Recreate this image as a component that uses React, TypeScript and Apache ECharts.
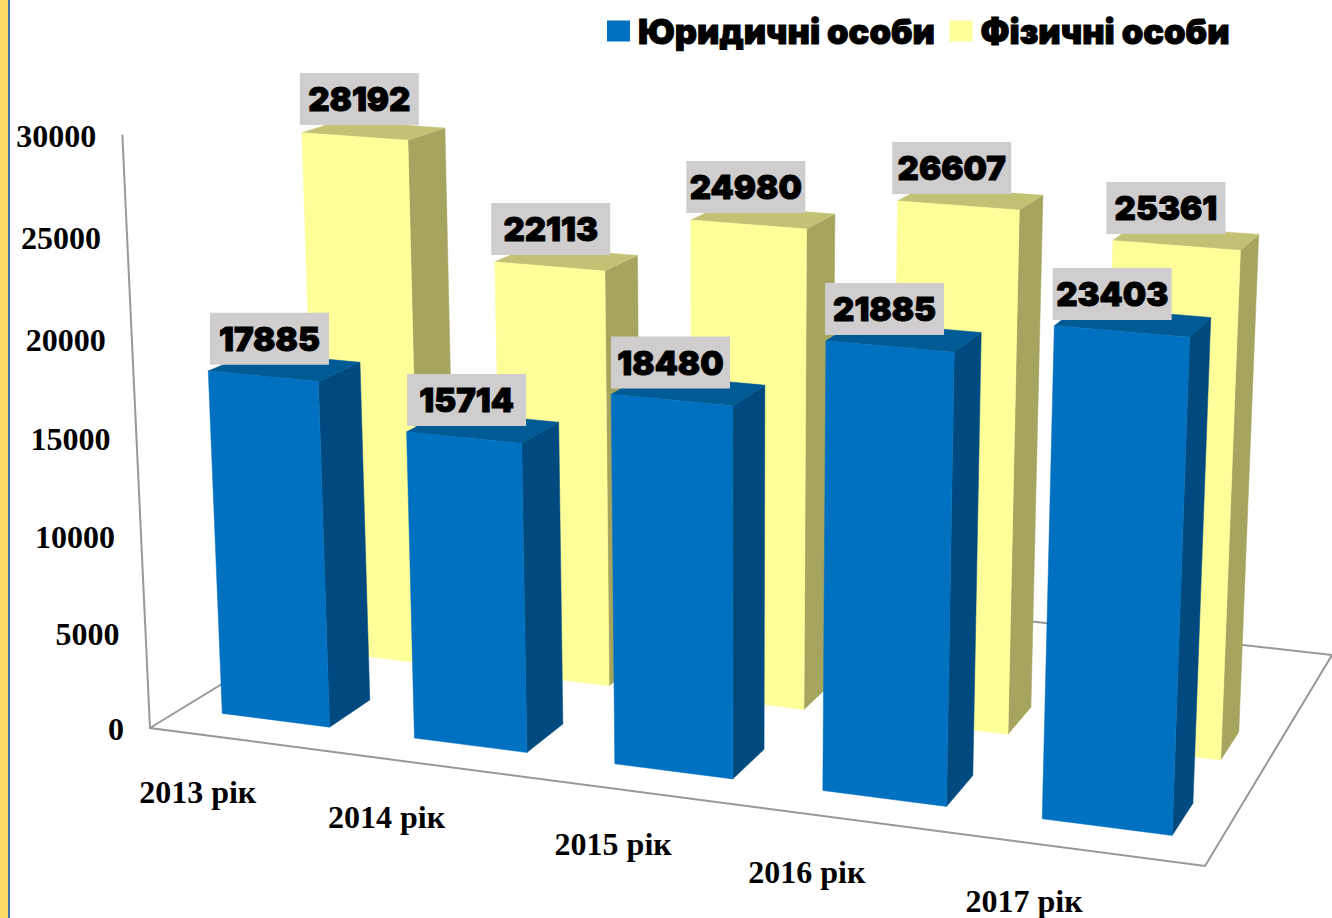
import React, { useEffect, useRef } from "react";
import * as echarts from "echarts";

const categories = ["2013 рік", "2014 рік", "2015 рік", "2016 рік", "2017 рік"];
const legalEntities = [17885, 15714, 18480, 21885, 23403];
const individuals = [28192, 22113, 24980, 26607, 25361];
const yTicks = [0, 5000, 10000, 15000, 20000, 25000, 30000];
const yMax = 30000;

// Perspective of the picture: floor quad, vertical vanishing point and height factor
const floorA = [150, 728];
const floorB = [1205, 866];
const floorC = [1332, 655];
const floorD = [433, 555];
const vanish = [736, 13291];
const heightK = -0.0451;
const barWidth = 0.114;
const blueShifts = [-0.002, -0.003, -0.003, -0.003, 0];
const yellowShifts = [-0.005, -0.005, -0.005, -0.003, 0];
const blueDepth = [0.098, 0.235];
const yellowDepth = [0.43, 0.565];
const catNudges = [[-49, 51], [-59, 50], [-39, 50], [-60, 50], [-66, 50]];

const blueColors = { front: "#0070C0", side: "#004A80", top: "#005A96" };
const yellowColors = { front: "#FFFF99", side: "#A5A560", top: "#C2C275" };

const dx1 = floorB[0] - floorC[0], dx2 = floorD[0] - floorC[0];
const sx = floorA[0] - floorB[0] + floorC[0] - floorD[0];
const dy1 = floorB[1] - floorC[1], dy2 = floorD[1] - floorC[1];
const sy = floorA[1] - floorB[1] + floorC[1] - floorD[1];
const den = dx1 * dy2 - dx2 * dy1;
const g = (sx * dy2 - dx2 * sy) / den;
const h = (dx1 * sy - sx * dy1) / den;
const a = floorB[0] - floorA[0] + g * floorB[0];
const b = floorD[0] - floorA[0] + h * floorD[0];
const d = floorB[1] - floorA[1] + g * floorB[1];
const e = floorD[1] - floorA[1] + h * floorD[1];

function project(u: number, v: number, z: number) {
  const w = g * u + h * v + 1 + heightK * z;
  return [
    (a * u + b * v + floorA[0] + heightK * z * vanish[0]) / w,
    (d * u + e * v + floorA[1] + heightK * z * vanish[1]) / w,
  ];
}

// share of the value axis, read from the (hidden) cartesian axis
function share(api: any, value: number) {
  const y0 = api.coord([0, 0])[1];
  const y1 = api.coord([0, yMax])[1];
  return (y0 - api.coord([0, value])[1]) / (y0 - y1);
}

function barRenderer(depth: number[], shifts: number[], colors: any) {
  return (_: any, api: any) => {
    const i = api.value(0);
    const val = api.value(1);
    const c = (i + 0.5) / categories.length + shifts[i];
    const z = share(api, val) * (1 + 0.0215 * (c - 0.1));
    const halfW = (barWidth * (0.975 + 0.05 * c)) / 2;
    const u0 = c - halfW, u1 = c + halfW;
    const [v0, v1] = depth;
    const poly = (pts: number[][], fill: string) => ({
      type: "polygon",
      shape: { points: pts },
      style: { fill, stroke: fill, lineWidth: 0.5 },
    });
    const fl = project(u0, v0, z), fr = project(u1, v0, z);
    const bl = project(u0, v1, z), br = project(u1, v1, z);
    const fl0 = project(u0, v0, 0), fr0 = project(u1, v0, 0), br0 = project(u1, v1, 0);
    const mx = (fl[0] + fr[0]) / 2, my = (fl[1] + fr[1]) / 2;
    const cx = mx + 11 - 0.0185 * mx, cy = my - 37.5;
    return {
      type: "group",
      children: [
        poly([fr, br, br0, fr0], colors.side),
        poly([fl, bl, br, fr], colors.top),
        poly([fl, fr, fr0, fl0], colors.front),
        {
          type: "rect",
          shape: { x: cx - 59.5, y: cy - 26, width: 119, height: 52 },
          style: { fill: "#CFCDCD" },
        },
        {
          type: "text",
          x: cx,
          y: cy,
          style: {
            text: String(val),
            x: 0,
            y: 0,
            align: "center",
            verticalAlign: "middle",
            fill: "#000",
            stroke: "#000",
            lineWidth: 1,
            font: "900 33px Inter",
          },
        },
      ],
    };
  };
}

function frameRenderer() {
  const A = project(0, 0, 0), B = project(1, 0, 0), C = project(1, 1, 0), D = project(0, 1, 0);
  const top = project(0, 0, 1);
  const line = (p: number[][]) => ({
    type: "polyline",
    shape: { points: p },
    style: { fill: "none", stroke: "#989898", lineWidth: 2 },
  });
  return { type: "group", children: [line([top, A, B, C, D, A])] };
}

function yTickRenderer(_: any, api: any) {
  const val = api.value(1);
  const p = project(0, 0, share(api, val));
  return {
    type: "text",
    x: p[0] - 26,
    y: p[1] + 1,
    style: {
      text: String(val),
      align: "right",
      verticalAlign: "middle",
      fill: "#000",
      font: "bold 32px 'Liberation Serif'",
    },
  };
}

function xLabelRenderer(_: any, api: any) {
  const i = api.value(0);
  const p = project((i + 0.5) / categories.length, 0, 0);
  return {
    type: "text",
    x: p[0] + catNudges[i][0],
    y: p[1] + catNudges[i][1],
    style: {
      text: categories[i],
      align: "center",
      verticalAlign: "middle",
      fill: "#000",
      font: "bold 32px 'Liberation Serif'",
    },
  };
}

export default function App() {
  const ref = useRef<HTMLDivElement>(null);
  useEffect(() => {
    const chart = echarts.init(ref.current!, undefined, { renderer: "svg" });
    chart.setOption({
      animation: false,
      backgroundColor: "#fff",
      grid: { left: 0, top: 0, width: 600, height: 600 },
      xAxis: { type: "category", data: categories, show: false },
      yAxis: { type: "value", min: 0, max: yMax, interval: 5000, show: false },
      legend: {
        data: ["Юридичні особи", "Фізичні особи"],
        left: 602,
        top: 8,
        icon: "rect",
        itemWidth: 23,
        itemHeight: 21,
        itemGap: 14,
        textStyle: {
          fontFamily: "Inter",
          fontWeight: 900,
          fontSize: 34.5,
          color: "#000",
          textBorderColor: "#000",
          textBorderWidth: 1,
          padding: [0, 0, 0, 3],
        },
      },
      graphic: [
        { type: "rect", shape: { x: 0, y: 0, width: 8, height: 918 }, style: { fill: "#FFD966" } },
        { type: "rect", shape: { x: 8, y: 0, width: 2, height: 918 }, style: { fill: "#4472A8" } },
      ],
      series: [
        {
          name: "frame",
          type: "custom",
          clip: false,
          renderItem: frameRenderer,
          data: [[0, 0]],
          silent: true,
        },
        {
          name: "yTicks",
          type: "custom",
          clip: false,
          renderItem: yTickRenderer,
          data: yTicks.map((t) => [0, t]),
          silent: true,
        },
        {
          name: "xLabels",
          type: "custom",
          clip: false,
          renderItem: xLabelRenderer,
          data: categories.map((_, i) => [i, 0]),
          silent: true,
        },
        {
          name: "Фізичні особи",
          type: "custom",
          clip: false,
          itemStyle: { color: yellowColors.front },
          renderItem: barRenderer(yellowDepth, yellowShifts, yellowColors),
          data: individuals.map((v, i) => [i, v]),
        },
        {
          name: "Юридичні особи",
          type: "custom",
          clip: false,
          itemStyle: { color: blueColors.front },
          renderItem: barRenderer(blueDepth, blueShifts, blueColors),
          data: legalEntities.map((v, i) => [i, v]),
        },
      ],
    });
    return () => chart.dispose();
  }, []);
  return (
    <div
      ref={ref}
      style={{ position: "absolute", left: 0, top: 0, width: 1332, height: 918 }}
    />
  );
}
